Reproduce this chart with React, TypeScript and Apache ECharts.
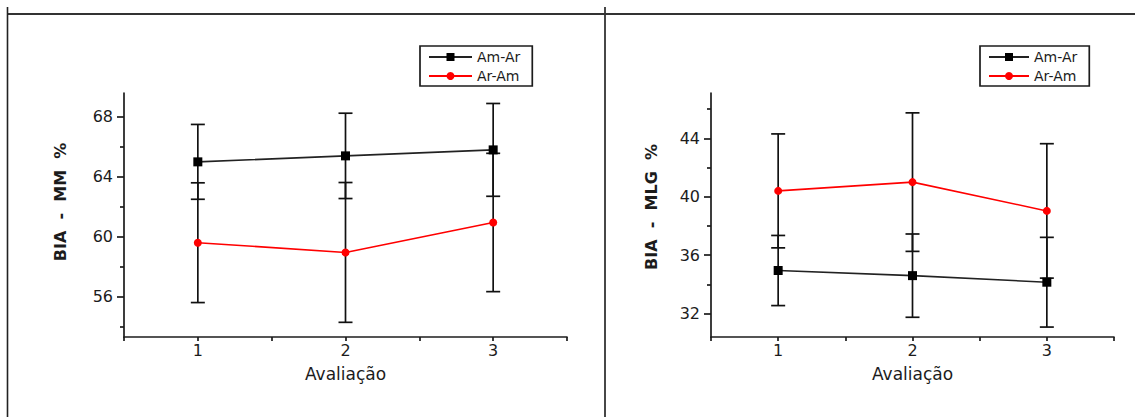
import React, { useEffect, useRef } from 'react';
import * as echarts from 'echarts';

// Categories (evaluation rounds)
const evaluations = [1, 2, 3];
const seriesNames = ['Am-Ar', 'Ar-Am'];

// Left panel: BIA - MM %
const mmAmAr = [65.0, 65.4, 65.8];
const mmAmArErr = [2.5, 2.85, 3.1];
const mmArAm = [59.6, 58.95, 60.95];
const mmArAmErr = [4.0, 4.67, 4.62];

// Right panel: BIA - MLG %
const mlgAmAr = [34.95, 34.6, 34.15];
const mlgAmArErr = [2.4, 2.85, 3.07];
const mlgArAm = [40.4, 41.0, 39.03];
const mlgArAmErr = [3.9, 4.74, 4.6];

// Tick values
const mmMajorTicks = [56, 60, 64, 68];
const mmMinorTicks = [54, 58, 62, 66];
const mlgMajorTicks = [32, 36, 40, 44];
const mlgMinorTicks = [34, 38, 42, 46];

const xTitle = 'Avaliação';
const mmTitle = 'BIA  -  MM  %';
const mlgTitle = 'BIA  -  MLG  %';

const FONT = 'DejaVu Sans';
const INK = '#1c1c1c';

function errData(vals: number[], errs: number[]) {
  return evaluations.map((x, i) => [x, vals[i] - errs[i], vals[i] + errs[i]]);
}

function pairs(vals: number[]) {
  return evaluations.map((x, i) => [x, vals[i]]);
}

const errorRender = (params: any, api: any) => {
  const x = api.value(0);
  const lo = api.coord([x, api.value(1)]);
  const hi = api.coord([x, api.value(2)]);
  const hw = 7;
  const style = { stroke: '#111', lineWidth: 1.7, fill: 'none' };
  return {
    type: 'group',
    children: [
      { type: 'line', shape: { x1: lo[0], y1: lo[1], x2: hi[0], y2: hi[1] }, style },
      { type: 'line', shape: { x1: lo[0] - hw, y1: lo[1], x2: lo[0] + hw, y2: lo[1] }, style },
      { type: 'line', shape: { x1: hi[0] - hw, y1: hi[1], x2: hi[0] + hw, y2: hi[1] }, style },
    ],
  };
};

export default function App() {
  const ref = useRef<HTMLDivElement>(null);

  useEffect(() => {
    if (!ref.current) return;
    const chart = echarts.init(ref.current, undefined, { renderer: 'svg' });

    const axisLineStyle = { color: INK, width: 1.7 };
    const grids = [
      { left: 124, top: 93, width: 443, height: 244 },
      { left: 124, top: 93, width: 443, height: 244 },
      { left: 711, top: 93, width: 403, height: 244 },
      { left: 711, top: 93, width: 403, height: 244 },
    ];

    const mainX = (gridIndex: number) => ({
      gridIndex,
      type: 'value',
      min: 0.5,
      max: 3.5,
      interval: 0.5,
      name: xTitle,
      nameLocation: 'middle',
      nameGap: 28,
      nameTextStyle: { fontFamily: FONT, fontSize: 17, color: INK },
      axisLine: { show: true, onZero: false, lineStyle: axisLineStyle },
      axisTick: { show: true, length: 4, lineStyle: axisLineStyle },
      axisLabel: {
        margin: 5,
        fontFamily: FONT,
        fontSize: 16,
        color: INK,
        formatter: (v: number) => (Math.abs(v - Math.round(v)) < 1e-6 ? String(Math.round(v)) : ''),
      },
      splitLine: { show: false },
    });
    const hiddenX = (gridIndex: number) => ({
      gridIndex,
      type: 'value',
      min: 0.5,
      max: 3.5,
      interval: 0.5,
      show: false,
    });

    const mainY = (gridIndex: number, min: number, max: number, ticks: number[]) => ({
      gridIndex,
      type: 'value',
      min,
      max,
      axisLine: { show: true, onZero: false, lineStyle: axisLineStyle },
      axisTick: { show: true, length: 7, customValues: ticks, lineStyle: axisLineStyle },
      axisLabel: { customValues: ticks, margin: 11, fontFamily: FONT, fontSize: 16, color: INK },
      splitLine: { show: false },
    });
    const minorY = (gridIndex: number, min: number, max: number, ticks: number[]) => ({
      gridIndex,
      type: 'value',
      min,
      max,
      axisLine: { show: false },
      axisTick: { show: true, length: 4, customValues: ticks, lineStyle: axisLineStyle },
      axisLabel: { show: false },
      splitLine: { show: false },
    });

    const lineSeries = (name: string, xi: number, yi: number, vals: number[]) => {
      const black = name === seriesNames[0];
      return {
        name,
        type: 'line',
        xAxisIndex: xi,
        yAxisIndex: yi,
        data: pairs(vals),
        symbol: black ? 'rect' : 'circle',
        symbolSize: black ? 9 : 8,
        z: 3,
        itemStyle: { color: black ? '#000' : '#ff0000' },
        lineStyle: { color: black ? '#222' : '#ff0000', width: 1.6 },
      };
    };

    const errSeries = (xi: number, yi: number, data: number[][]) => ({
      type: 'custom',
      name: 'err',
      xAxisIndex: xi,
      yAxisIndex: yi,
      renderItem: errorRender,
      data,
      z: 2,
      silent: true,
    });

    const legend = (left: number, itemWidth: number) => ({
      data: seriesNames,
      orient: 'vertical',
      left,
      top: 46,
      itemWidth,
      itemHeight: 10,
      itemGap: 5,
      padding: [4, 12, 3, 8],
      borderColor: INK,
      borderWidth: 1.7,
      borderRadius: 0,
      textStyle: { fontFamily: FONT, fontSize: 14, color: INK },
    });

    const option: any = {
      animation: false,
      backgroundColor: '#fff',
      grid: grids,
      xAxis: [mainX(0), hiddenX(1), mainX(2), hiddenX(3)],
      yAxis: [
        mainY(0, 53.3, 69.6, mmMajorTicks),
        minorY(1, 53.3, 69.6, mmMinorTicks),
        mainY(2, 30.4, 47.1, mlgMajorTicks),
        minorY(3, 30.4, 47.1, mlgMinorTicks),
      ],
      legend: [legend(420, 43), legend(980, 40)],
      series: [
        errSeries(0, 0, [...errData(mmAmAr, mmAmArErr), ...errData(mmArAm, mmArAmErr)]),
        lineSeries(seriesNames[0], 0, 0, mmAmAr),
        lineSeries(seriesNames[1], 0, 0, mmArAm),
        errSeries(2, 2, [...errData(mlgAmAr, mlgAmArErr), ...errData(mlgArAm, mlgArAmErr)]),
        lineSeries(seriesNames[0], 2, 2, mlgAmAr),
        lineSeries(seriesNames[1], 2, 2, mlgArAm),
      ],
      graphic: [
        { type: 'line', shape: { x1: 8, y1: 14, x2: 1135, y2: 14 }, style: { stroke: '#333', lineWidth: 2 } },
        { type: 'line', shape: { x1: 7.5, y1: 7, x2: 7.5, y2: 417 }, style: { stroke: '#222', lineWidth: 1.6 } },
        { type: 'line', shape: { x1: 605, y1: 7, x2: 605, y2: 417 }, style: { stroke: '#333', lineWidth: 1.8 } },
        {
          type: 'text',
          x: 60,
          y: 202,
          rotation: Math.PI / 2,
          style: { text: mmTitle, font: `bold 16px "${FONT}"`, fill: INK, align: 'center', verticalAlign: 'middle' },
        },
        {
          type: 'text',
          x: 651,
          y: 207,
          rotation: Math.PI / 2,
          style: { text: mlgTitle, font: `bold 16px "${FONT}"`, fill: INK, align: 'center', verticalAlign: 'middle' },
        },
      ],
    };

    chart.setOption(option);
    return () => chart.dispose();
  }, []);

  return (
    <div
      ref={ref}
      style={{ position: 'fixed', left: 0, top: 0, width: 1135, height: 417, background: '#fff' }}
    />
  );
}
